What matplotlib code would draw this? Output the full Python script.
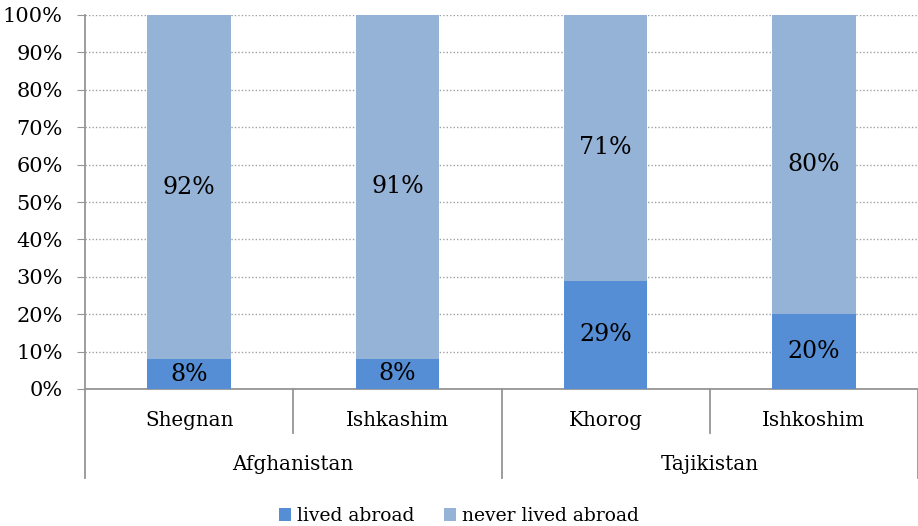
import numpy as np
import matplotlib.pyplot as plt
from matplotlib.ticker import PercentFormatter

plt.rcParams['font.family'] = ['DejaVu Serif']

districts = ['Shegnan', 'Ishkashim', 'Khorog', 'Ishkoshim']
countries = ['Afghanistan', 'Tajikistan']
# raw shares in percent (chart is 100% stacked, so each bar is normalised)
lived_abroad = [8, 8, 29, 20]
never_lived_abroad = [92, 91, 71, 80]

c_lived = '#558ED5'
c_never = '#95B3D7'
grey = '#959595'

lived = np.array(lived_abroad, dtype=float)
never = np.array(never_lived_abroad, dtype=float)
total = lived + never
lived_n = lived / total * 100
never_n = never / total * 100

fig = plt.figure(figsize=(9.18, 5.26), dpi=100)
ax = fig.add_axes([85/918, 1-389/526, 833/918, 374/526])

x = np.arange(len(districts))
w = 0.4
b1 = ax.bar(x, lived_n, w, color=c_lived, label='lived abroad', zorder=3)
b2 = ax.bar(x, never_n, w, bottom=lived_n, color=c_never, label='never lived abroad', zorder=3)

fs = 14.3
fs_lab = 17
for i in range(len(x)):
    ax.text(x[i], lived_n[i]/2, f'{lived_abroad[i]}%', ha='center', va='center', fontsize=fs_lab, zorder=4)
    ax.text(x[i], lived_n[i] + never_n[i]/2, f'{never_lived_abroad[i]}%', ha='center', va='center',
            fontsize=fs_lab, zorder=4)

ax.set_xlim(-0.5, len(x) - 0.5)
ax.set_ylim(0, 100)
ax.set_yticks(np.arange(0, 101, 10))
ax.yaxis.set_major_formatter(PercentFormatter(decimals=0))
ax.tick_params(axis='y', length=6, color=grey, labelsize=15, pad=10)
ax.set_xticks([])
ax.grid(axis='y', color='#A0A0A0', linestyle=(0, (1, 1.5)), linewidth=1, zorder=0)

for s in ['top', 'right']:
    ax.spines[s].set_visible(False)
ax.spines['left'].set_color(grey)
ax.spines['bottom'].set_color(grey)
ax.spines['left'].set_linewidth(1.3)
ax.spines['bottom'].set_linewidth(1.3)

# two-level category axis
tr = ax.get_xaxis_transform()
inner_y = -44/374
outer_y = -89/374
for i in range(len(x)):
    ax.text(x[i], -32/374, districts[i], transform=tr, ha='center', va='center', fontsize=fs)
for k in range(1, len(x)):
    if k % 2 == 1:
        ax.plot([k - 0.5, k - 0.5], [0, inner_y], transform=tr, color=grey, lw=1.3, clip_on=False)
for k in range(0, len(x) + 1, 2):
    ax.plot([k - 0.5, k - 0.5], [0, outer_y], transform=tr, color=grey, lw=1.3, clip_on=False)
for j, c in enumerate(countries):
    ax.text(2*j + 0.5, -76/374, c, transform=tr, ha='center', va='center', fontsize=fs)

fig.legend(handles=[b1, b2], loc='center', bbox_to_anchor=(0.5, 1 - 516/526), ncol=2, frameon=False,
           fontsize=13.5, handlelength=0.65, handleheight=0.65, handletextpad=0.3, columnspacing=1.6)

fig.savefig('out.png', dpi=100)
